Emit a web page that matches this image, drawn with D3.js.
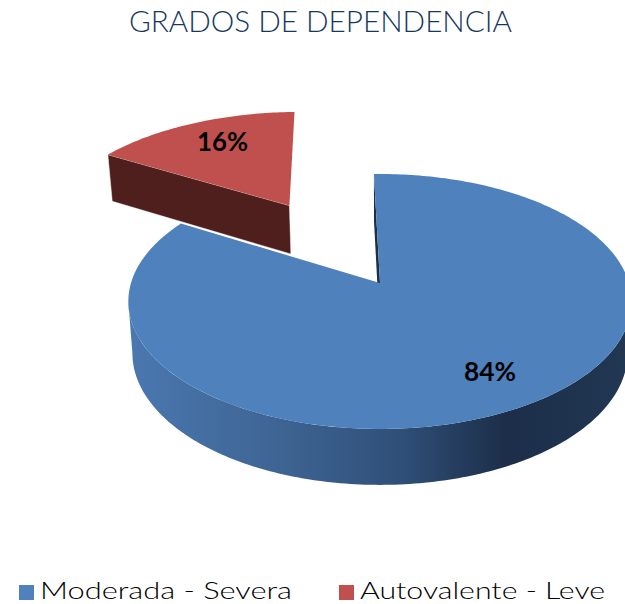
<!DOCTYPE html>
<html>
<head>
<meta charset="utf-8">
<script src="https://cdn.jsdelivr.net/npm/d3@7"></script>
<style>
  html, body { margin: 0; padding: 0; background: #fff; }
  svg { display: block; }
  text { font-family: Lato, "Open Sans", sans-serif; }
</style>
</head>
<body>
<svg id="chart" width="625" height="604"></svg>
<script>
const categories = ["Moderada - Severa", "Autovalente - Leve"];
const values = [84, 16];
const labels = ["84%", "16%"];
const colors = ["#4f81bd", "#c0504d"];
const title = "GRADOS DE DEPENDENCIA";

const svg = d3.select("#chart");
const deg = Math.PI / 180;

// slices start just left of 12 o'clock, going clockwise
const pie = d3.pie().sort(null).startAngle(-1.6 * deg).endAngle(358.4 * deg);
const slices = pie(values);

// perspective projection of the unit disc (v points away from the viewer)
const persp = 0.145;
const topFace = { cx: 380, cy: 283, a: 249, b: 124.8 };
const bottomFace = { cx: 380, cy: 334, a: 245, b: 129 };

function project(face, u, v) {
    const w = 1 + persp * v;
    return [face.cx + face.a * u / w, face.cy - face.b * v / w];
}

function rim(face, a0, a1, off = [0, 0], r = 1) {
    const n = Math.max(2, Math.ceil(Math.abs(a1 - a0) / deg));
    return d3.range(n + 1).map(i => {
        const t = a0 + (a1 - a0) * i / n;
        return project(face, off[0] + r * Math.sin(t), off[1] + r * Math.cos(t));
    });
}

const line = d3.line();

const defs = svg.append("defs");
const sideGrad = defs.append("linearGradient")
    .attr("id", "sideGrad")
    .attr("gradientUnits", "userSpaceOnUse")
    .attr("x1", 128).attr("x2", 625).attr("y1", 0).attr("y2", 0);
[[0, "#4a78b0"], [0.32, "#3d6391"], [0.55, "#2f4f78"], [0.76, "#1c2e49"], [1, "#213752"]]
    .forEach(([o, c]) => sideGrad.append("stop").attr("offset", o).attr("stop-color", c));

svg.append("text")
    .attr("x", 129).attr("y", 32)
    .attr("font-size", 29)
    .attr("font-weight", 300)
    .attr("fill", "#17375e")
    .attr("textLength", 383)
    .attr("lengthAdjust", "spacingAndGlyphs")
    .text(title);

const blue = slices[0];
const red = slices[1];

// blue: outer side wall, then the thin inner wall, then the top face
const tangent = Math.acos(-persp);
const sideTop = rim(topFace, tangent, 2 * Math.PI - tangent);
const sideBottom = rim(bottomFace, 2 * Math.PI - tangent, tangent);
svg.append("path")
    .attr("d", line(sideTop.concat(sideBottom)) + "Z")
    .attr("fill", "url(#sideGrad)");

const innerWall = [
    project(topFace, Math.sin(blue.startAngle), Math.cos(blue.startAngle)),
    project(bottomFace, Math.sin(blue.startAngle), Math.cos(blue.startAngle)),
    project(bottomFace, 0, 0),
    project(topFace, 0, 0)
];
svg.append("path")
    .attr("d", line(innerWall) + "Z")
    .attr("fill", "#1c2f49");

svg.append("path")
    .attr("d", line([project(topFace, 0, 0)].concat(rim(topFace, blue.startAngle, blue.endAngle))) + "Z")
    .attr("fill", colors[0]);

// red: pulled out along its middle angle
const mid = (red.startAngle + red.endAngle) / 2;
const pull = 0.79;
const redR = 1.03;
const off = [pull * Math.sin(mid), pull * Math.cos(mid)];
const redEdge = [off[0] + redR * Math.sin(red.startAngle), off[1] + redR * Math.cos(red.startAngle)];

const redWall = [
    project(topFace, off[0], off[1]),
    project(topFace, redEdge[0], redEdge[1]),
    project(bottomFace, redEdge[0], redEdge[1]),
    project(bottomFace, off[0], off[1])
];
svg.append("path")
    .attr("d", line(redWall) + "Z")
    .attr("fill", "#4f1f1d")
    .attr("stroke", "#fff")
    .attr("stroke-opacity", 0.6)
    .attr("stroke-width", 0.8);

svg.append("path")
    .attr("d", line([project(topFace, off[0], off[1])].concat(rim(topFace, red.startAngle, red.endAngle, off, redR))) + "Z")
    .attr("fill", colors[1]);

// percent labels
svg.append("text")
    .attr("x", 464).attr("y", 381)
    .attr("font-size", 26).attr("font-weight", 700)
    .attr("fill", "#000")
    .attr("textLength", 52)
    .attr("lengthAdjust", "spacingAndGlyphs")
    .text(labels[0]);
svg.append("text")
    .attr("x", 197).attr("y", 151)
    .attr("font-size", 26).attr("font-weight", 700)
    .attr("fill", "#000")
    .attr("textLength", 51)
    .attr("lengthAdjust", "spacingAndGlyphs")
    .text(labels[1]);

// legend
const legendX = [19, 339];
const legendLen = [252, 245];
const legend = svg.selectAll("g.legend")
    .data(categories)
    .join("g")
    .attr("class", "legend");
legend.append("rect")
    .attr("x", (d, i) => legendX[i]).attr("y", 585)
    .attr("width", 15).attr("height", 15)
    .attr("fill", (d, i) => colors[i]);
legend.append("text")
    .attr("x", (d, i) => legendX[i] + 21).attr("y", 599)
    .attr("font-size", 24)
    .attr("font-weight", 300)
    .attr("fill", "#000")
    .attr("textLength", (d, i) => legendLen[i])
    .attr("lengthAdjust", "spacingAndGlyphs")
    .text(d => d);
</script>
</body>
</html>
